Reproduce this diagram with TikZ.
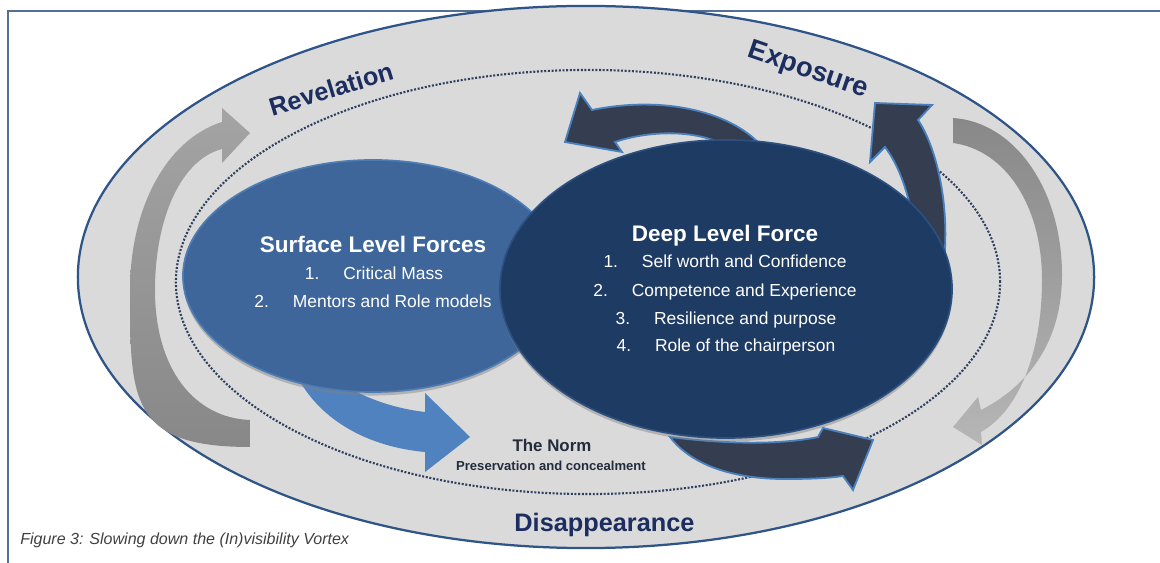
\documentclass[tikz,border=0pt]{standalone}
\usepackage{fontspec}
\setmainfont{Liberation Sans}
\usetikzlibrary{shapes.geometric,shadows}

\definecolor{ringfill}{RGB}{218,218,218}
\definecolor{ringline}{RGB}{46,84,136}
\definecolor{framecol}{RGB}{84,110,148}
\definecolor{dotcol}{RGB}{45,62,95}
\definecolor{surfblue}{RGB}{62,102,154}
\definecolor{surfrim}{RGB}{78,124,180}
\definecolor{deepblue}{RGB}{30,59,100}
\definecolor{deeprim}{RGB}{44,80,128}
\definecolor{slate}{RGB}{52,62,80}
\definecolor{rimblue}{RGB}{74,128,190}
\definecolor{normblue}{RGB}{80,130,192}
\definecolor{navytext}{RGB}{28,45,95}
\definecolor{normtext}{RGB}{36,44,60}
\definecolor{greydark}{RGB}{136,136,136}
\definecolor{greylight}{RGB}{182,182,182}

\tikzset{
  ringword/.style = {inner sep=0pt, text=navytext, font=\bfseries\fontsize{18}{21}\selectfont},
  blob/.style = {ellipse, inner sep=0pt,
    drop shadow={shadow xshift=0pt, shadow yshift=-2.5pt, opacity=.45}},
  blobtitle/.style = {anchor=base, inner sep=0pt, text=white,
    font=\bfseries\fontsize{16}{19}\selectfont},
  blobitem/.style = {anchor=base, inner sep=0pt, text=white,
    font=\fontsize{12.4}{15}\selectfont},
  darkarrow/.style = {fill=slate, draw=rimblue, line width=1.3pt, line join=miter},
}

% number, tab gap, entry
\newcommand{\numitem}[2]{#1.\hspace{17pt}#2}

\begin{document}
\begin{tikzpicture}[x=0.025cm, y=-0.025cm]
\useasboundingbox (0,0) rectangle (1160,563);

% open frame round the figure
\draw[framecol, line width=1pt] (8,563) -- (8,11) -- (1160,11);

% outer band and dotted ring
\node[ellipse, inner sep=0pt, minimum width=25.4cm, minimum height=13.55cm,
      fill=ringfill, draw=ringline, line width=1.6pt] (outer) at (586,277) {};
\node[ellipse, inner sep=0pt, minimum width=20.6cm, minimum height=10.6cm,
      draw=dotcol, line width=1.5pt, dash pattern=on 1.4pt off 1.2pt] (ring) at (588,282) {};

% grey arcs on the band
\shade[top color=greylight!60!greydark, bottom color=greydark]
  (250,447) .. controls (130,447) and (130,400) .. (130,290)
  .. controls (130,210) and (165,140) .. (222,122)
  -- (222,108) -- (250,133) -- (222,163) -- (222,149)
  .. controls (180,160) and (155,220) .. (155,290)
  .. controls (155,370) and (195,418) .. (250,420) -- cycle;
\shade[top color=greydark, bottom color=greylight]
  (953,118) .. controls (1015,122) and (1062,190) .. (1062,275)
  .. controls (1062,340) and (1030,385) .. (981,410)
  -- (978,397) -- (953,427) -- (982,445) -- (981,432)
  .. controls (1020,410) and (1042,350) .. (1042,280)
  .. controls (1042,205) and (1005,150) .. (953,143) -- cycle;

% arrows out of the two forces
\fill[normblue]
  (298,378) .. controls (322,422) and (370,447) .. (425,452)
  -- (425,472) -- (470,437) -- (425,393) -- (425,412)
  .. controls (390,408) and (355,395) .. (330,375) -- cycle;
\filldraw[darkarrow]
  (765,150) .. controls (735,112) and (665,95) .. (592,110)
  -- (580,93) -- (565,142) -- (622,152) -- (615,142)
  .. controls (650,130) and (705,128) .. (735,152) -- cycle;
\filldraw[darkarrow]
  (944,262) .. controls (950,200) and (935,145) .. (918,120)
  -- (932,105) -- (875,103) -- (870,162) -- (885,147)
  .. controls (897,163) and (906,185) .. (912,215) -- (915,240) -- cycle;
\filldraw[darkarrow]
  (670,437) .. controls (692,466) and (735,479) .. (785,479)
  .. controls (812,479) and (830,478) .. (843,476)
  -- (853,490) -- (873,440) -- (823,428) -- (818,437)
  .. controls (790,443) and (740,446) .. (670,437) -- cycle;

% the two forces
\node[blob, minimum width=9.5cm, minimum height=5.8cm,
      fill=surfblue, draw=surfrim, line width=1.2pt] (surface) at (373,276) {};
\node[blob, minimum width=11.3cm, minimum height=7.45cm,
      fill=deepblue, draw=deeprim, line width=1.2pt] (deep) at (726,289) {};

% band labels
\node[ringword, rotate=17] (revelation) at (331,89) {Revelation};
\node[ringword, rotate=-19, font=\bfseries\fontsize{19.5}{22}\selectfont] (exposure) at (808,71) {Exposure};
\node[ringword, anchor=base] (disappear) at (604.5,532) {Disappearance};

% surface level
\node[blobtitle] (surftitle) at (373,253) {Surface Level Forces};
\node[blobitem] (surf1) at (374,280) {\numitem{1}{Critical Mass}};
\node[blobitem] (surf2) at (373,308) {\numitem{2}{Mentors and Role models}};

% deep level
\node[blobtitle] (deeptitle) at (725,242) {Deep Level Force};
\node[blobitem] (deep1) at (725,268) {\numitem{1}{Self worth and Confidence}};
\node[blobitem] (deep2) at (725,297) {\numitem{2}{Competence and Experience}};
\node[blobitem] (deep3) at (726,325) {\numitem{3}{Resilience and purpose}};
\node[blobitem] (deep4) at (726,352) {\numitem{4}{Role of the chairperson}};

% the norm
\node[anchor=base, inner sep=0pt, text=normtext,
      font=\bfseries\fontsize{12}{14}\selectfont] (norm) at (552,452) {The Norm};
\node[anchor=base, inner sep=0pt, text=normtext,
      font=\bfseries\fontsize{9.3}{11}\selectfont] (normsub) at (551,471) {Preservation and concealment};

% caption
\node[anchor=base west, inner sep=0pt, text=black!75,
      font=\itshape\fontsize{11.4}{13}\selectfont] (caption) at (20,545)
  {Figure 3: Slowing down the (In)visibility Vortex};
\end{tikzpicture}
\end{document}
